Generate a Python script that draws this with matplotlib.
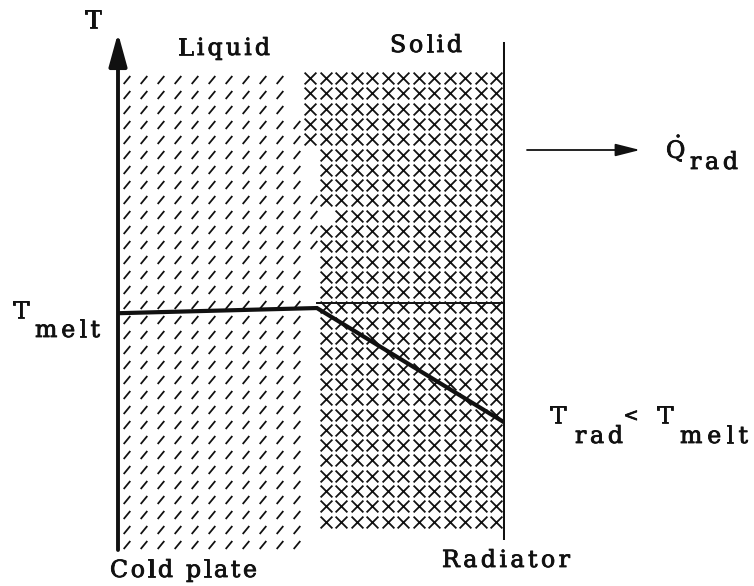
import matplotlib
matplotlib.use('Agg')
import matplotlib.pyplot as plt
import matplotlib.patheffects as pe
from matplotlib.collections import LineCollection
from matplotlib.font_manager import FontProperties, findfont
from matplotlib.ft2font import FT2Font
import numpy as np

INK = '#111111'
FONT = 'DejaVu Serif'
plt.rcParams['mathtext.fontset'] = 'dejavuserif'

# temperature profile across the PCM slab (0 = cold plate, 1 = radiator)
position = [0.0, 0.514, 1.0]
temperature = [0.458, 0.468, 0.246]
# melt temperature carried on through the solid
melt_pos = [0.514, 1.0]
melt_temp = [0.478, 0.478]

# liquid / solid front (pixel rows -> pixel columns)
front_row = [72, 150, 210, 300, 380, 460, 545]
front_col = [293, 305, 322, 313, 305, 310, 312]

W, H = 754, 586
fig = plt.figure(figsize=(W / 100, H / 100), dpi=100)
fig.patch.set_facecolor('white')

# background layer in pixel units for the shading texture and labels
bg = fig.add_axes([0, 0, 1, 1])
bg.set_xlim(0, W)
bg.set_ylim(H, 0)
bg.axis('off')

dashes = []
cross_x, cross_y = [], []
for y in np.arange(80, 546, 15):
    edge = np.interp(y, front_row, front_col)
    for x in np.arange(127, edge - 4, 17):
        dashes.append([(x - 3.3, y + 4.0), (x + 3.3, y - 4.0)])
for y in np.arange(78, 536, 15.3):
    edge = np.interp(y, front_row, front_col)
    for x in np.arange(496, edge + 5, -15.5):
        cross_x.append(x)
        cross_y.append(y)

bg.add_collection(LineCollection(dashes, colors=INK, linewidths=1.3))
bg.scatter(cross_x, cross_y, marker='x', s=72, linewidths=1.3, color=INK)

# data axes: slab from cold plate to radiator
ax = fig.add_axes([118 / W, 36 / H, 387 / W, 517 / H])
ax.set_xlim(0, 1)
ax.set_ylim(0, 1)
ax.axis('off')
ax.patch.set_alpha(0)

ax.annotate('', xy=(0, 1), xytext=(0, 0),
            arrowprops=dict(arrowstyle='-|>,head_length=2.0,head_width=0.55',
                            color=INK, lw=2.8, shrinkA=0, shrinkB=0))
ax.plot([1.0, 1.0], [0.02, 0.983], color=INK, lw=2.9, solid_capstyle='butt')

ax.plot(position, temperature, color=INK, lw=3.0, solid_joinstyle='miter')
ax.plot(melt_pos, melt_temp, color=INK, lw=1.4)

# heat rejected by the radiator
bg.annotate('', xy=(640, 150), xytext=(527, 150),
            arrowprops=dict(arrowstyle='-|>,head_length=1.5,head_width=0.38',
                            color=INK, lw=1.3, shrinkA=0, shrinkB=0))

heavy = [pe.withStroke(linewidth=0.6, foreground=INK)]


def typed(x, y, s, width=None, size=17):
    # typewriter look: spread the letters to the width seen in the scan
    fp = FontProperties(family=FONT, size=size)
    ft = FT2Font(findfont(fp))
    ft.set_size(size, 100)
    adv = [ft.load_char(ord(ch)).linearHoriAdvance / 65536 for ch in s]
    gap = 0 if width is None or len(s) < 2 else (width - sum(adv)) / (len(s) - 1)
    for ch, w in zip(s, adv):
        if ch != ' ':
            bg.text(x, y, ch, ha='left', va='baseline', fontproperties=fp,
                    color=INK, path_effects=heavy)
        x += w + gap


typed(85, 28, 'T', size=18)
typed(178, 55, 'Liquid', 92)
typed(390, 52, 'Solid', 72)

bg.text(666, 158, r'$\dot{\mathrm{Q}}$', ha='left', va='baseline', fontsize=17,
        color=INK, path_effects=heavy)
typed(690, 169, 'rad', 48)

typed(13, 318, 'T')
typed(35, 337, 'melt', 65)

typed(550, 423, 'T')
typed(575, 443, 'rad', 48)
bg.text(631, 421, '<', ha='center', va='baseline', fontsize=13, family=FONT,
        color=INK, path_effects=heavy)
typed(657, 423, 'T')
typed(680, 443, 'melt', 68)

typed(110, 577, 'Cold plate', 147)
typed(442, 567, 'Radiator', 128)

fig.savefig('out.png', dpi=100, facecolor='white')
